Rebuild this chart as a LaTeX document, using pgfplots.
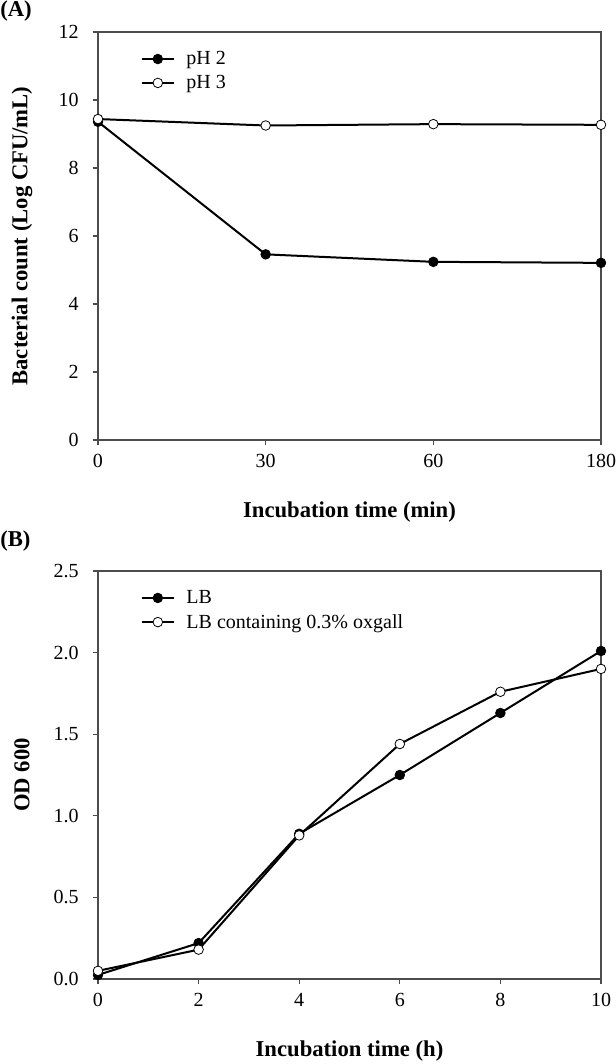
\documentclass[border=0pt]{standalone}
\usepackage{fontspec}
\setmainfont{Liberation Serif}
\usepackage{pgfplots}
\pgfplotsset{compat=1.18}

\pgfplotsset{
  panel/.style={
    scale only axis,
    width=377.25pt, height=306pt,
    axis line style={black!70, line width=0.8pt},
    tick style={black!70, line width=0.8pt},
    tick align=outside,
    major tick length=4pt,
    xtick pos=bottom, ytick pos=left,
    clip=false,
    font=\fontsize{15}{17}\selectfont,
    /pgf/number format/assume math mode=true,
    xticklabel style={yshift=-3pt},
    yticklabel style={xshift=-7pt},
    xlabel style={font=\fontsize{17}{19}\selectfont\bfseries, at={(0.5,0)}, anchor=center, yshift=-54pt},
    ylabel style={font=\fontsize{17}{19}\selectfont\bfseries, at={(0,0.5)}, anchor=center, yshift=57pt},
    legend style={draw=none, fill=none, at={(0.084,0.958)}, anchor=north west,
      font=\fontsize{15}{17}\selectfont, row sep=3.5pt, column sep=7pt, inner sep=0pt,
      nodes={inner sep=1.5pt}},
    legend cell align=left,
    legend image code/.code={
      \draw[mark repeat=2, mark phase=2] plot coordinates {(0cm,0cm)(0.43cm,0cm)(0.86cm,0cm)};
    },
  },
  filled/.style={black, line width=1.5pt, mark=*, mark size=3.6pt, mark options={fill=black, line width=0.6pt}},
  hollow/.style={black, line width=1.5pt, mark=*, mark size=3.6pt, mark options={fill=white, line width=0.6pt}},
}

\begin{document}
\begin{tikzpicture}
\path[use as bounding box] (-73.5pt,-468pt) rectangle (387.75pt,330pt);

% panel A
\begin{axis}[panel, at={(0,0)}, anchor=south west,
    xmin=0, xmax=3, ymin=0, ymax=12,
    xtick={0,1,2,3}, xticklabels={0,30,60,180},
    ytick={0,2,...,12},
    xlabel={Incubation time (min)},
    ylabel={Bacterial count (Log CFU/mL)}]
\addplot[filled] coordinates {(0,9.36)(1,5.46)(2,5.24)(3,5.21)};
\addplot[hollow] coordinates {(0,9.44)(1,9.25)(2,9.29)(3,9.27)};
\legend{pH 2, pH 3}
\end{axis}
\node[anchor=west, inner sep=0pt, font=\fontsize{17}{19}\selectfont\bfseries] at (-73.5pt,321.75pt) {(A)};

% panel B
\begin{axis}[panel, at={(0,-404.25pt)}, anchor=south west,
    xmin=0, xmax=10, ymin=0, ymax=2.5,
    xtick={0,2,...,10},
    ytick={0,0.5,...,2.5},
    yticklabel style={/pgf/number format/.cd, fixed, fixed zerofill, precision=1},
    xlabel={Incubation time (h)},
    ylabel={OD 600}]
\addplot[filled] coordinates {(0,0.025)(2,0.22)(4,0.89)(6,1.25)(8,1.63)(10,2.01)};
\addplot[hollow] coordinates {(0,0.05)(2,0.18)(4,0.88)(6,1.44)(8,1.76)(10,1.90)};
\legend{LB, LB containing 0.3\% oxgall}
\end{axis}
\node[anchor=west, inner sep=0pt, font=\fontsize{17}{19}\selectfont\bfseries] at (-73.5pt,-75.75pt) {(B)};
\end{tikzpicture}
\end{document}
